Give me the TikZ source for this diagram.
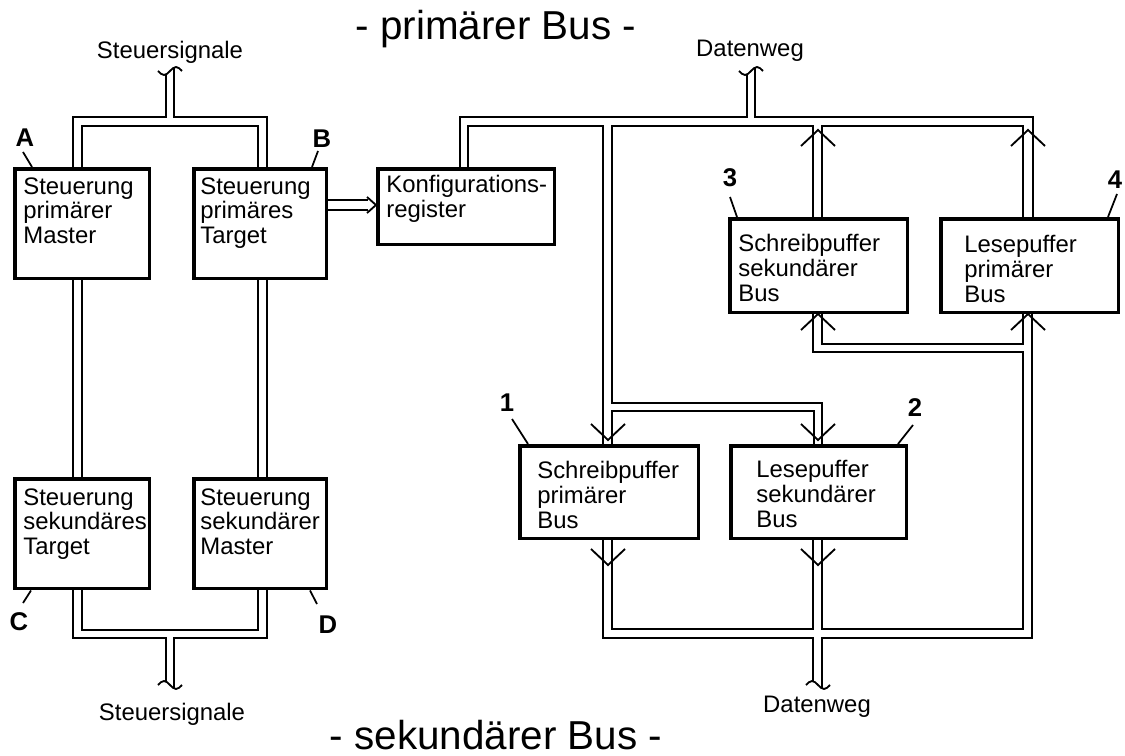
\documentclass[tikz,border=0pt]{standalone}
\usepackage{fontspec}
\setmainfont{Liberation Sans}
\usetikzlibrary{calc}

% small open chevrons sitting on a bus (tip position given)
\newcommand\busChevUp[2]{\draw[chev] (#1-17,#2+16) -- (#1,#2) -- (#1+17,#2+16);}
\newcommand\busChevDown[2]{\draw[chev] (#1-17,#2-16) -- (#1,#2) -- (#1+17,#2-16);}

\begin{document}
\begin{tikzpicture}[x=0.02cm, y=-0.02cm,
  box/.style={draw, line width=2pt, inner sep=0pt, anchor=north west},
  txt/.style={anchor=north west, inner sep=0pt, align=left,
              font=\fontsize{13.6pt}{14.2pt}\selectfont},
  lbl/.style={anchor=base, inner sep=0pt, font=\fontsize{13.6pt}{16pt}\selectfont},
  tag/.style={anchor=base, inner sep=0pt, font=\fontsize{14.6pt}{17pt}\selectfont\bfseries},
  heading/.style={anchor=base, inner sep=0pt, font=\fontsize{23pt}{27pt}\selectfont},
  bus/.style={line width=1.05pt, line join=miter},
  chev/.style={line width=1.05pt},
  lead/.style={line width=1pt}]

\useasboundingbox (0,0) rectangle (1125,756);

% ---------- headings ----------
\node[heading] (hprim) at (496,40) {- primärer Bus -};
\node[heading] (hsek)  at (496,749) {- sekundärer Bus -};

% ---------- control blocks ----------
\node[box, minimum width=2.7cm,  minimum height=2.2cm] (A) at (13,167) {};
\node[box, minimum width=2.66cm, minimum height=2.2cm] (B) at (192,167) {};
\node[box, minimum width=2.7cm,  minimum height=2.2cm] (C) at (13,477) {};
\node[box, minimum width=2.66cm, minimum height=2.2cm] (D) at (192,477) {};
\node[box, minimum width=3.54cm, minimum height=1.52cm] (K) at (376,167) {};

\node[txt] (At) at (23,177)  {Steuerung\\primärer\\Master};
\node[txt] (Bt) at (200,177) {Steuerung\\primäres\\Target};
\node[txt] (Ct) at (23,488)  {Steuerung\\sekundäres\\Target};
\node[txt] (Dt) at (200,488) {Steuerung\\sekundärer\\Master};
\node[txt] (Kt) at (386,175) {Konfigurations-\\register};

% ---------- buffers ----------
\node[box, minimum width=3.58cm, minimum height=1.86cm] (P1) at (518,444) {};
\node[box, minimum width=3.52cm, minimum height=1.86cm] (P2) at (729,444) {};
\node[box, minimum width=3.56cm, minimum height=1.88cm] (P3) at (728,217) {};
\node[box, minimum width=3.56cm, minimum height=1.88cm] (P4) at (939,217) {};

\node[txt] (P1t) at (537,461) {Schreibpuffer\\primärer\\Bus};
\node[txt] (P2t) at (756,460) {Lesepuffer\\sekundärer\\Bus};
\node[txt] (P3t) at (738,234) {Schreibpuffer\\sekundärer\\Bus};
\node[txt] (P4t) at (964,235) {Lesepuffer\\primärer\\Bus};

% ---------- tags with leader lines ----------
\node[tag] (tA) at (25,147)  {A};
\node[tag] (tB) at (322,148) {B};
\node[tag] (tC) at (19,630)  {C};
\node[tag] (tD) at (328,633) {D};
\node[tag] (t1) at (507,412) {1};
\node[tag] (t2) at (915,417) {2};
\node[tag] (t3) at (730,187) {3};
\node[tag] (t4) at (1115,189) {4};

\draw[lead] (23,152) -- (32,167 |- A.north);
\draw[lead] (318,151) -- (312,167 |- B.north);
\draw[lead] (31,0 |- C.south) -- (23,603);
\draw[lead] (310,0 |- D.south) -- (317,604);
\draw[lead] (512,419) -- (528,0 |- P1.north);
\draw[lead] (913,425) -- (898,0 |- P2.north);
\draw[lead] (730,197) -- (737,0 |- P3.north);
\draw[lead] (1117,194) -- (1108,0 |- P4.north);

% ---------- control signal bus ----------
\node[lbl] (sigtop) at (170,59)  {Steuersignale};
\node[lbl] (sigbot) at (172,720) {Steuersignale};

\draw[bus] (73,0 |- A.north) -- (73,117) -- (166,117) -- (166,74.5);
\draw[bus] (174,67.5) -- (174,117) -- (267,117) -- (267,0 |- B.north);
\draw[bus] (82,0 |- A.north) -- (82,126) -- (258,126) -- (258,0 |- B.north);
\draw[bus] (158,71) sin (164,75) cos (170,71) sin (176,67) cos (182,71);

\draw[bus] (73,0 |- A.south) -- (73,0 |- C.north);
\draw[bus] (82,0 |- A.south) -- (82,0 |- C.north);
\draw[bus] (258,0 |- B.south) -- (258,0 |- D.north);
\draw[bus] (267,0 |- B.south) -- (267,0 |- D.north);

\draw[bus] (82,0 |- C.south) -- (82,630) -- (258,630) -- (258,0 |- D.south);
\draw[bus] (73,0 |- C.south) -- (73,638) -- (166,638) -- (166,681.5);
\draw[bus] (174,688.5) -- (174,638) -- (267,638) -- (267,0 |- D.south);
\draw[bus] (158,685) sin (164,681) cos (170,685) sin (176,689) cos (182,685);

% ---------- B to configuration register ----------
\draw[bus] (B.east |- 0,200) -- (368,200);
\draw[bus] (B.east |- 0,210) -- (368,210);
\draw[bus] (367,197) -- (K.west |- 0,205) -- (367,213);

% ---------- data path, primary side ----------
\node[lbl] (dtop) at (750,57)  {Datenweg};
\node[lbl] (dbot) at (817,712) {Datenweg};

\draw[bus] (460,0 |- K.north) -- (460,117) -- (747,117) -- (747,74.5);
\draw[bus] (755,67.5) -- (755,117) -- (1033,117) -- (1033,0 |- P4.north);
\draw[bus] (739,71) sin (745,75) cos (751,71) sin (757,67) cos (763,71);
\draw[bus] (468,0 |- K.north) -- (468,126) -- (603,126) -- (603,0 |- P1.north);
\draw[bus] (813,0 |- P3.north) -- (813,126) -- (612,126) -- (612,403) -- (822,403) -- (822,0 |- P2.north);
\draw[bus] (1023,0 |- P4.north) -- (1023,126) -- (822,126) -- (822,0 |- P3.north);
\draw[bus] (612,0 |- P1.north) -- (612,411) -- (814,411) -- (814,0 |- P2.north);

% ---------- data path, secondary side ----------
\draw[bus] (612,0 |- P1.south) -- (612,629) -- (813,629) -- (813,0 |- P2.south);
\draw[bus] (603,0 |- P1.south) -- (603,638) -- (813,638) -- (813,681.1);
\draw[bus] (822,0 |- P2.south) -- (822,629) -- (1023,629) -- (1023,352) -- (813,352) -- (813,0 |- P3.south);
\draw[bus] (822,688.5) -- (822,638) -- (1032,638) -- (1032,0 |- P4.south);
\draw[bus] (822,0 |- P3.south) -- (822,344) -- (1023,344) -- (1023,0 |- P4.south);
\draw[bus] (806,685) sin (812,681) cos (818,685) sin (824,689) cos (830,685);

% ---------- direction marks ----------
\busChevUp{818}{130}
\busChevUp{1028}{130}
\busChevUp{818}{314}
\busChevUp{1028}{314}
\busChevDown{608}{440}
\busChevDown{818}{440}
\busChevDown{608}{565}
\busChevDown{818}{565}

\end{tikzpicture}
\end{document}
